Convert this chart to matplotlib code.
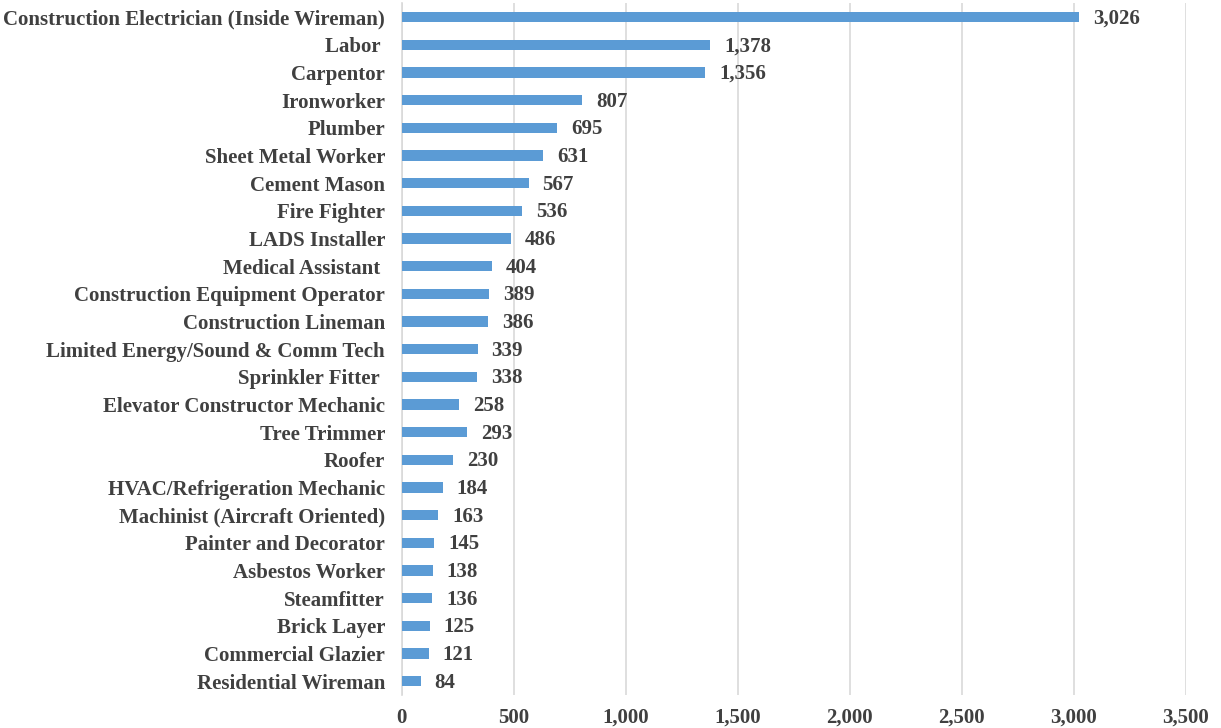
import matplotlib
matplotlib.use("Agg")
import matplotlib.pyplot as plt
from matplotlib.ticker import FuncFormatter, MultipleLocator

categories = [
    "Construction Electrician (Inside Wireman)", "Labor ", "Carpentor", "Ironworker",
    "Plumber", "Sheet Metal Worker", "Cement Mason", "Fire Fighter", "LADS Installer",
    "Medical Assistant ", "Construction Equipment Operator", "Construction Lineman",
    "Limited Energy/Sound & Comm Tech", "Sprinkler Fitter ", "Elevator Constructor Mechanic",
    "Tree Trimmer", "Roofer", "HVAC/Refrigeration Mechanic", "Machinist (Aircraft Oriented)",
    "Painter and Decorator", "Asbestos Worker", "Steamfitter", "Brick Layer",
    "Commercial Glazier", "Residential Wireman",
]
values = [3026, 1378, 1356, 807, 695, 631, 567, 536, 486, 404, 389, 386, 339, 338,
          258, 293, 230, 184, 163, 145, 138, 136, 125, 121, 84]

text_color = "#404040"
bar_color = "#5B9BD5"
font = ["Liberation Serif", "DejaVu Serif"]
fs = 15

fig = plt.figure(figsize=(12.21, 7.28), dpi=100)
ax = fig.add_axes([0.329, 0.0453, 0.642, 0.9502])

y = list(range(len(categories)))
ax.barh(y, values, height=0.37, color=bar_color, zorder=3)
ax.set_ylim(len(categories) - 0.5, -0.5)
ax.set_xlim(0, 3500)
ax.xaxis.set_major_locator(MultipleLocator(500))
ax.xaxis.set_major_formatter(FuncFormatter(lambda v, p: f"{int(v):,}"))
ax.set_yticks(y)
ax.set_yticklabels(categories)

for yi, v in zip(y, values):
    ax.annotate(f"{v:,}", (v, yi), xytext=(10, -1), textcoords="offset points",
                va="center", ha="left", fontsize=fs, fontweight="bold",
                color=text_color, family=font)

for lbl in ax.get_yticklabels() + ax.get_xticklabels():
    lbl.set_family(font)
    lbl.set_fontweight("bold")
    lbl.set_fontsize(fs)
    lbl.set_color(text_color)

ax.grid(axis="x", color="#D9D9D9", linewidth=1.2, zorder=0)
ax.tick_params(axis="both", length=0)
ax.tick_params(axis="y", pad=12)
ax.tick_params(axis="x", pad=9)
for s in ["top", "right", "bottom"]:
    ax.spines[s].set_visible(False)
ax.spines["left"].set_color("#D9D9D9")
ax.spines["left"].set_linewidth(1.2)

fig.savefig("out.png", dpi=100)
